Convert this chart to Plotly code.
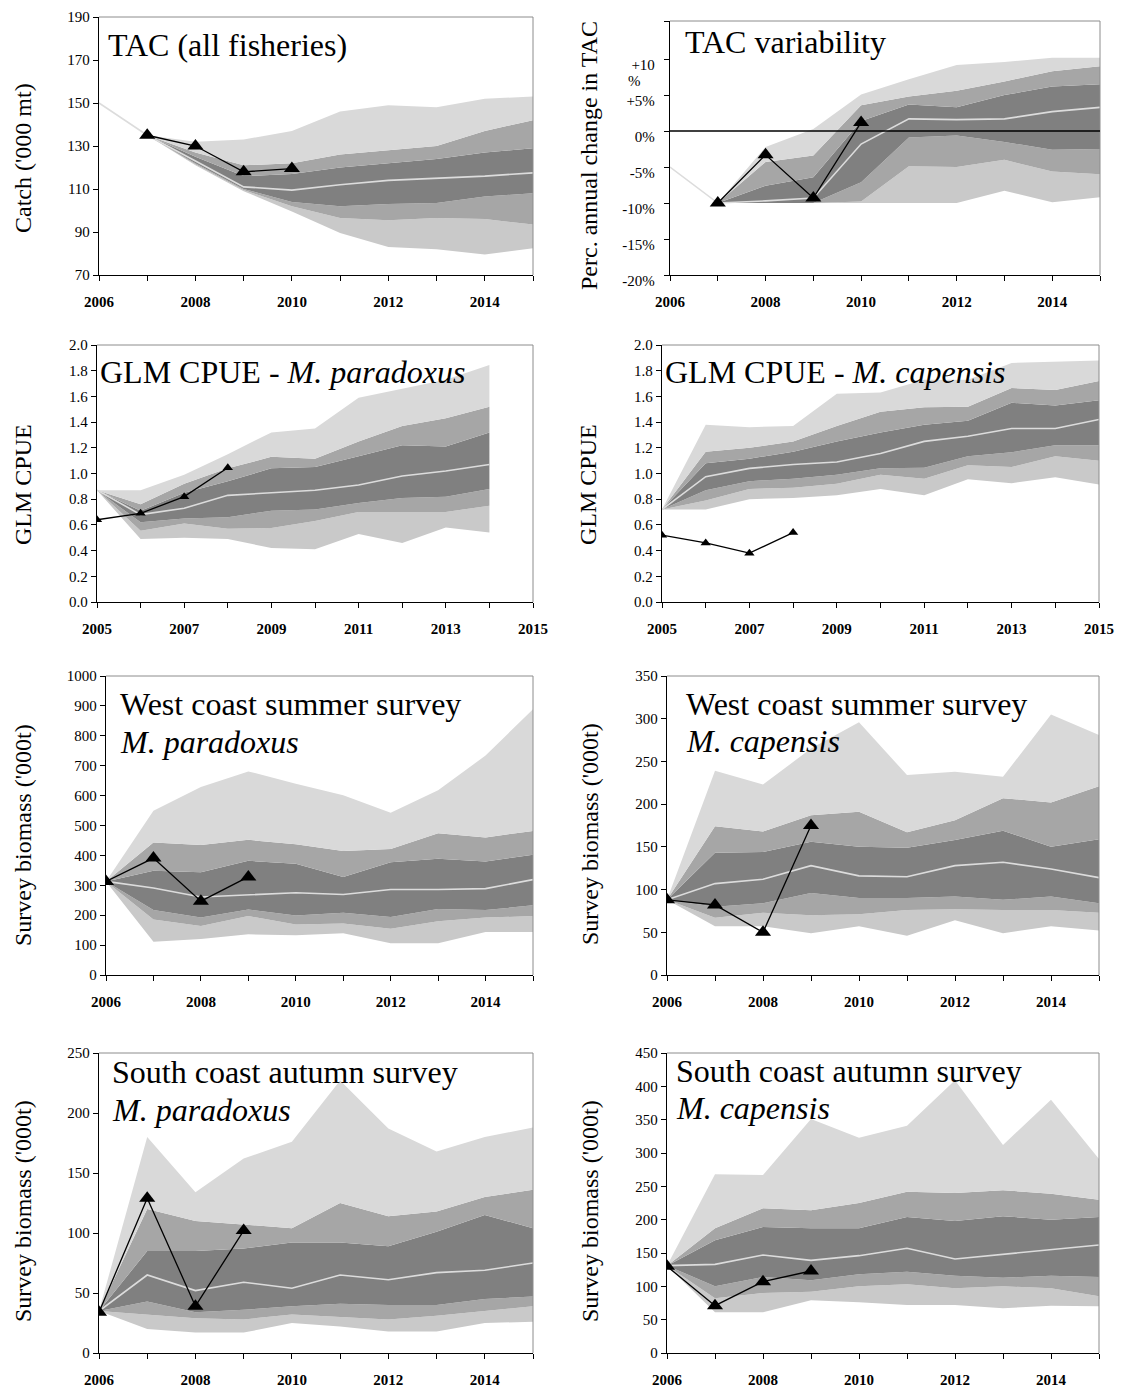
import plotly.graph_objects as go

W, H = 1122, 1389
SERIF = "Liberation Serif"

# ---------------- data ----------------
# TAC (all fisheries), '000 mt
tac_years = [2007, 2008, 2009, 2010, 2011, 2012, 2013, 2014, 2015]
tac_outer_hi = [135, 132, 133, 137, 146, 149, 148, 152, 153]
tac_mid_hi = [135, 127, 121, 122, 126, 128, 130, 137, 142]
tac_inner_hi = [135, 125, 116, 117, 120, 122, 124, 127, 129]
tac_median_years = [2006] + tac_years
tac_median = [150, 135, 123, 111, 109.5, 112, 114, 115, 116, 117.5]
tac_inner_lo = [135, 122, 110, 104, 102, 103, 103.5, 106.5, 108]
tac_mid_lo = [135, 121.5, 109.5, 102, 96.5, 95.5, 96.5, 96, 93.5]
tac_outer_lo = [135, 121, 109, 99.5, 89.5, 83, 82, 79.5, 82.5]
tac_obs_years = [2007, 2008, 2009, 2010]
tac_obs = [135, 130, 118, 119.5]

# TAC variability, % annual change
var_years = [2007, 2008, 2009, 2010, 2011, 2012, 2013, 2014, 2015]
var_outer_hi = [-10, -2.2, 0.3, 5.1, 7.2, 9.2, 9.6, 10.2, 10.2]
var_mid_hi = [-10, -4.3, -3.4, 3.6, 4.8, 5.6, 6.9, 8.3, 9.0]
var_inner_hi = [-10, -7.6, -6.4, 1.4, 3.7, 3.3, 5.0, 6.2, 6.5]
var_median_years = [2006] + var_years
var_median = [-5, -10, -9.7, -9.3, -1.8, 1.7, 1.6, 1.7, 2.7, 3.3]
var_inner_lo = [-10, -10, -10, -7.1, -0.9, -0.6, -1.5, -2.6, -2.5]
var_mid_lo = [-10, -10, -10, -9.8, -4.9, -5.0, -4.0, -5.6, -6.0]
var_outer_lo = [-10, -10, -10, -10, -10, -10, -8.3, -9.9, -9.2]
var_obs_years = [2007, 2008, 2009, 2010]
var_obs = [-10, -3.3, -9.3, 1.2]

# GLM CPUE - M. paradoxus
cpp_years = [2005, 2006, 2007, 2008, 2009, 2010, 2011, 2012, 2013, 2014]
cpp_outer_hi = [0.87, 0.87, 0.99, 1.15, 1.32, 1.35, 1.59, 1.66, 1.73, 1.845]
cpp_mid_hi = [0.87, 0.76, 0.92, 1.04, 1.13, 1.115, 1.25, 1.37, 1.43, 1.52]
cpp_inner_hi = [0.87, 0.71, 0.85, 0.94, 1.04, 1.05, 1.135, 1.22, 1.21, 1.32]
cpp_median = [0.87, 0.68, 0.73, 0.83, 0.85, 0.87, 0.91, 0.98, 1.02, 1.07]
cpp_inner_lo = [0.87, 0.62, 0.65, 0.66, 0.71, 0.72, 0.77, 0.81, 0.82, 0.88]
cpp_mid_lo = [0.87, 0.555, 0.61, 0.57, 0.575, 0.63, 0.70, 0.70, 0.70, 0.75]
cpp_outer_lo = [0.87, 0.49, 0.50, 0.49, 0.42, 0.41, 0.53, 0.46, 0.58, 0.54]
cpp_obs_years = [2005, 2006, 2007, 2008]
cpp_obs = [0.64, 0.69, 0.82, 1.045]

# GLM CPUE - M. capensis
cpc_years = [2005, 2006, 2007, 2008, 2009, 2010, 2011, 2012, 2013, 2014, 2015]
cpc_outer_hi = [0.72, 1.38, 1.36, 1.37, 1.62, 1.63, 1.73, 1.73, 1.86, 1.87, 1.88]
cpc_mid_hi = [0.72, 1.17, 1.20, 1.25, 1.37, 1.48, 1.515, 1.52, 1.665, 1.65, 1.72]
cpc_inner_hi = [0.72, 1.08, 1.115, 1.17, 1.25, 1.32, 1.38, 1.41, 1.55, 1.53, 1.57]
cpc_median = [0.72, 0.975, 1.04, 1.07, 1.09, 1.155, 1.25, 1.29, 1.35, 1.35, 1.42]
cpc_inner_lo = [0.72, 0.87, 0.94, 0.96, 0.99, 1.04, 1.045, 1.135, 1.165, 1.22, 1.22]
cpc_mid_lo = [0.72, 0.79, 0.88, 0.89, 0.92, 0.99, 0.96, 1.065, 1.05, 1.135, 1.10]
cpc_outer_lo = [0.72, 0.72, 0.80, 0.81, 0.83, 0.88, 0.83, 0.955, 0.925, 0.97, 0.915]
cpc_obs_years = [2005, 2006, 2007, 2008]
cpc_obs = [0.52, 0.46, 0.38, 0.54]

# Survey years shared by the four survey panels
srv_years = [2006, 2007, 2008, 2009, 2010, 2011, 2012, 2013, 2014, 2015]
srv_obs_years = [2006, 2007, 2008, 2009]

# West coast summer survey - M. paradoxus ('000 t)
wcp_outer_hi = [313, 549, 629, 681, 640, 601, 543, 618, 734, 889]
wcp_mid_hi = [313, 443, 435, 452, 437, 415, 421, 474, 460, 482]
wcp_inner_hi = [313, 349, 344, 382, 372, 328, 377, 389, 380, 402]
wcp_median = [313, 291, 261, 269, 275, 269, 286, 286, 289, 319]
wcp_inner_lo = [313, 217, 192, 219, 199, 208, 194, 221, 217, 233]
wcp_mid_lo = [313, 186, 164, 197, 169, 172, 155, 180, 192, 197]
wcp_outer_lo = [313, 111, 120, 136, 133, 140, 106, 106, 144, 144]
wcp_obs = [313, 391, 247, 328]

# West coast summer survey - M. capensis ('000 t)
wcc_outer_hi = [88, 239, 223, 265, 296, 234, 238, 232, 305, 281]
wcc_mid_hi = [88, 174, 168, 187, 191, 167, 181, 207, 202, 221]
wcc_inner_hi = [88, 143, 144, 156, 150, 149, 158, 169, 150, 159]
wcc_median = [88, 107, 112, 128, 116, 115, 128, 132, 124, 114]
wcc_inner_lo = [88, 80, 84, 96, 90, 90, 92, 88, 92, 84]
wcc_mid_lo = [88, 67, 73, 70, 71, 76, 77, 76, 76, 73]
wcc_outer_lo = [88, 57, 57, 49, 57, 46, 64, 49, 57, 52]
wcc_obs = [88, 82, 50, 175]

# South coast autumn survey - M. paradoxus ('000 t)
scp_outer_hi = [35, 180, 134, 162, 176, 227, 187, 168, 180, 188]
scp_mid_hi = [35, 120, 110, 107, 104, 125, 114, 118, 130, 136]
scp_inner_hi = [35, 85, 85, 87, 92, 92, 89, 101, 115, 104]
scp_median = [35, 65, 52, 59, 54, 65, 61, 67, 69, 75]
scp_inner_lo = [35, 43, 34, 36, 39, 41, 40, 40, 45, 47]
scp_mid_lo = [35, 32, 29, 28, 32, 30, 28, 31, 35, 39]
scp_outer_lo = [35, 20, 17, 17, 25, 22, 18, 18, 25, 26]
scp_obs = [34, 129, 39, 102]

# South coast autumn survey - M. capensis ('000 t)
scc_outer_hi = [131, 268, 267, 351, 323, 341, 409, 312, 380, 291]
scc_mid_hi = [131, 187, 217, 214, 225, 242, 240, 244, 239, 230]
scc_inner_hi = [131, 169, 189, 187, 187, 204, 198, 205, 200, 204]
scc_median = [131, 133, 147, 139, 146, 157, 141, 148, 154, 162]
scc_inner_lo = [131, 100, 114, 109, 118, 122, 116, 113, 116, 114]
scc_mid_lo = [131, 82, 90, 92, 100, 103, 97, 100, 97, 85]
scc_outer_lo = [131, 61, 61, 79, 76, 72, 72, 67, 71, 70]
scc_obs = [130, 71, 107, 123]

# ---------------- styling ----------------
C_OUTER_HI = "#d9d9d9"
C_OUTER_LO = "#c9c9c9"
C_MID = "#a6a6a6"
C_INNER = "#808080"
C_MEDIAN = "#dcdcdc"

fig = go.Figure()


def fx(px):
    return px / W


def fy(py):
    return 1 - py / H


def add_panel(k, years, bands, med_years, median, obs_years, obs, msize):
    xa, ya = ("x" if k == 1 else f"x{k}"), ("y" if k == 1 else f"y{k}")
    outer_lo, mid_lo, inner_lo, inner_hi, mid_hi, outer_hi = bands
    seq = [
        (outer_lo, None),
        (mid_lo, C_OUTER_LO),
        (inner_lo, C_MID),
        (inner_hi, C_INNER),
        (mid_hi, C_MID),
        (outer_hi, C_OUTER_HI),
    ]
    for vals, col in seq:
        fig.add_trace(go.Scatter(
            x=years, y=vals, xaxis=xa, yaxis=ya, mode="lines",
            line=dict(width=0, color=col or "rgba(0,0,0,0)"),
            fill="tonexty" if col else None,
            fillcolor=col, showlegend=False, hoverinfo="skip"))
    fig.add_trace(go.Scatter(
        x=med_years, y=median, xaxis=xa, yaxis=ya, mode="lines",
        line=dict(width=1.6, color=C_MEDIAN), showlegend=False))
    fig.add_trace(go.Scatter(
        x=obs_years, y=obs, xaxis=xa, yaxis=ya, mode="lines+markers",
        line=dict(width=1.3, color="black"),
        marker=dict(symbol="triangle-up", size=msize, color="black"),
        showlegend=False))


add_panel(1, tac_years,
          (tac_outer_lo, tac_mid_lo, tac_inner_lo, tac_inner_hi, tac_mid_hi, tac_outer_hi),
          tac_median_years, tac_median, tac_obs_years, tac_obs, 14)
add_panel(2, var_years,
          (var_outer_lo, var_mid_lo, var_inner_lo, var_inner_hi, var_mid_hi, var_outer_hi),
          var_median_years, var_median, var_obs_years, var_obs, 14)
add_panel(3, cpp_years,
          (cpp_outer_lo, cpp_mid_lo, cpp_inner_lo, cpp_inner_hi, cpp_mid_hi, cpp_outer_hi),
          cpp_years, cpp_median, cpp_obs_years, cpp_obs, 9)
add_panel(4, cpc_years,
          (cpc_outer_lo, cpc_mid_lo, cpc_inner_lo, cpc_inner_hi, cpc_mid_hi, cpc_outer_hi),
          cpc_years, cpc_median, cpc_obs_years, cpc_obs, 9)
add_panel(5, srv_years,
          (wcp_outer_lo, wcp_mid_lo, wcp_inner_lo, wcp_inner_hi, wcp_mid_hi, wcp_outer_hi),
          srv_years, wcp_median, srv_obs_years, wcp_obs, 14)
add_panel(6, srv_years,
          (wcc_outer_lo, wcc_mid_lo, wcc_inner_lo, wcc_inner_hi, wcc_mid_hi, wcc_outer_hi),
          srv_years, wcc_median, srv_obs_years, wcc_obs, 14)
add_panel(7, srv_years,
          (scp_outer_lo, scp_mid_lo, scp_inner_lo, scp_inner_hi, scp_mid_hi, scp_outer_hi),
          srv_years, scp_median, srv_obs_years, scp_obs, 14)
add_panel(8, srv_years,
          (scc_outer_lo, scc_mid_lo, scc_inner_lo, scc_inner_hi, scc_mid_hi, scc_outer_hi),
          srv_years, scc_median, srv_obs_years, scc_obs, 14)

# panel geometry in page pixels: (x0, x1, y0, y1)
boxes = {
    1: (99, 533, 17, 275),
    2: (670, 1100, 21, 275),
    3: (97, 533, 345, 602),
    4: (662, 1099, 345, 602),
    5: (106, 533, 676, 975),
    6: (667, 1099, 676, 975),
    7: (99, 533, 1053, 1353),
    8: (667, 1099, 1053, 1353),
}

yranges = {1: [70, 190], 2: [-20, 15.3], 3: [0, 2.0], 4: [0, 2.0],
           5: [0, 1000], 6: [0, 350], 7: [0, 250], 8: [0, 450]}
ydticks = {1: 20, 3: 0.2, 4: 0.2, 5: 100, 6: 50, 7: 50, 8: 50}

axis_common = dict(showline=True, linecolor="black", linewidth=1.3,
                   ticks="outside", ticklen=5, tickcolor="black", tickwidth=1.2,
                   showgrid=False, zeroline=False, automargin=False)

layout = dict(width=W, height=H, margin=dict(l=0, r=0, t=0, b=0, pad=0),
              template="none", paper_bgcolor="white", plot_bgcolor="white",
              showlegend=False)

shapes = []
for k, (x0, x1, y0, y1) in boxes.items():
    sfx = "" if k == 1 else str(k)
    if k in (3, 4):
        xr = [2005, 2015]
        xt = list(range(2005, 2016))
        xl = [str(v) if (v - 2005) % 2 == 0 else "" for v in xt]
    else:
        xr = [2006, 2015]
        xt = list(range(2006, 2016))
        xl = [str(v) if (v - 2006) % 2 == 0 and v < 2015 else "" for v in xt]
    layout["xaxis" + sfx] = dict(
        domain=[fx(x0), fx(x1)], range=xr, tickvals=xt, ticktext=xl, anchor="y" + sfx,
        tickfont=dict(family=SERIF, size=15, color="black", weight="bold"),
        ticklabelstandoff=8, **axis_common)
    yax = dict(domain=[fy(y1), fy(y0)], range=yranges[k], anchor="x" + sfx,
               tickfont=dict(family=SERIF, size=15, color="black"), **axis_common)
    if k == 2:
        yax.update(tickvals=[-20, -15, -10, -5, 0, 5, 10, 15.3],
                   ticktext=["-20%", "-15%", "-10%", "-5%", "0%", "+5%", "+10", ""],
                   ticklabelshift=6, ticklabelstandoff=6)
    else:
        yax.update(tick0=yranges[k][0], dtick=ydticks[k])
        if k in (3, 4):
            yax.update(tickformat=".1f")
    layout["yaxis" + sfx] = yax
    # light frame on the top and right edges
    shapes.append(dict(type="line", xref="paper", yref="paper",
                       x0=fx(x0), x1=fx(x1), y0=fy(y0), y1=fy(y0),
                       line=dict(color="#8c8c8c", width=1), layer="above"))
    shapes.append(dict(type="line", xref="paper", yref="paper",
                       x0=fx(x1), x1=fx(x1), y0=fy(y0), y1=fy(y1),
                       line=dict(color="#8c8c8c", width=1), layer="above"))

# zero-change reference line
shapes.append(dict(type="line", xref="x2", yref="y2", x0=2006, x1=2015, y0=0, y1=0,
                   line=dict(color="black", width=1.5), layer="above"))
layout["shapes"] = shapes

annotations = []


def text_at(px, py, txt, size, angle=0, xanchor="left"):
    annotations.append(dict(
        x=fx(px), y=fy(py), xref="paper", yref="paper", text=txt,
        showarrow=False, xanchor=xanchor, yanchor="middle", textangle=angle,
        font=dict(family=SERIF, size=size, color="black")))


# panel titles
text_at(106, 45, "TAC (all fisheries)", 32)
text_at(683, 42, "TAC variability", 32)
text_at(98, 372, "GLM CPUE - <i>M. paradoxus</i>", 32)
text_at(663, 372, "GLM CPUE - <i>M. capensis</i>", 32)
text_at(118, 704, "West coast summer survey", 32)
text_at(118, 742, "<i>M. paradoxus</i>", 32)
text_at(684, 704, "West coast summer survey", 32)
text_at(684, 741, "<i>M. capensis</i>", 32)
text_at(110, 1072, "South coast autumn survey", 32)
text_at(110, 1110, "<i>M. paradoxus</i>", 32)
text_at(674, 1071, "South coast autumn survey", 32)
text_at(674, 1108, "<i>M. capensis</i>", 32)

# y-axis titles
text_at(23, 158, "Catch ('000 mt)", 24, -90, "center")
text_at(589, 156, "Perc. annual change in TAC", 24, -90, "center")
text_at(23, 485, "GLM CPUE", 24, -90, "center")
text_at(588, 485, "GLM CPUE", 24, -90, "center")
text_at(23, 835, "Survey biomass ('000t)", 24, -90, "center")
text_at(590, 834, "Survey biomass ('000t)", 24, -90, "center")
text_at(23, 1211, "Survey biomass ('000t)", 24, -90, "center")
text_at(590, 1211, "Survey biomass ('000t)", 24, -90, "center")

# second line of the +10% tick label
text_at(626, 81, "%", 15)

layout["annotations"] = annotations
fig.update_layout(**layout)
fig.write_html("out.html")
